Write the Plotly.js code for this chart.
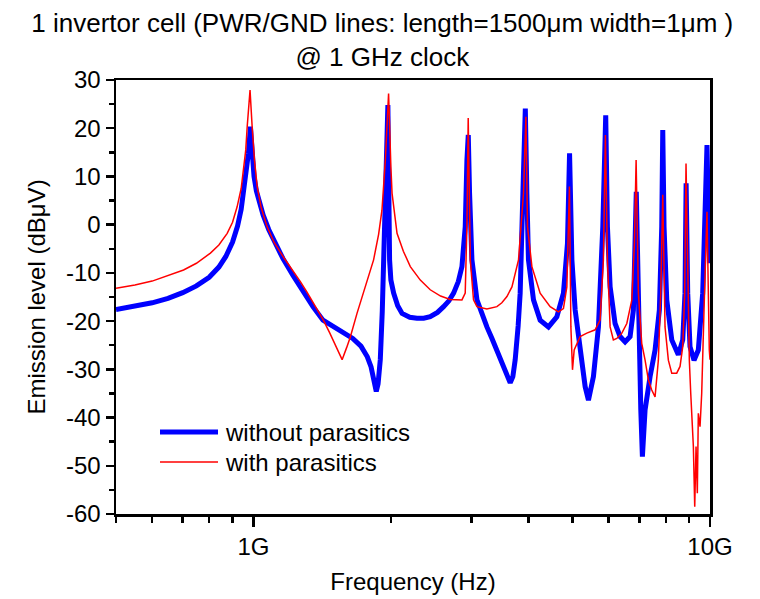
<!DOCTYPE html>
<html>
<head>
<meta charset="utf-8">
<script src="https://cdn.plot.ly/plotly-3.0.1.min.js"></script>
<style>html,body{margin:0;padding:0;background:#fff;}#chart{width:760px;height:599px;}</style>
</head>
<body>
<div id="chart"></div>
<script>
// Frequencies in GHz, levels in dBuV
const blueFreqGHz = [0.5, 0.55, 0.6, 0.65, 0.7, 0.75, 0.8, 0.84, 0.87, 0.9, 0.923, 0.94, 0.951, 0.965, 0.975, 0.985,
  0.99, 0.995, 1.003, 1.015, 1.03, 1.05, 1.08, 1.11, 1.16, 1.22, 1.28, 1.35, 1.42, 1.5, 1.58, 1.65, 1.72, 1.776, 1.81, 1.835, 1.858, 1.875, 1.896, 1.915, 1.928, 1.945, 1.97,
  1.987, 2.0, 2.028, 2.07, 2.116, 2.2, 2.281, 2.36, 2.439, 2.53, 2.609, 2.68, 2.744, 2.81, 2.862, 2.89, 2.91, 2.935, 2.955,
  2.974, 3.01, 3.087, 3.16, 3.246, 3.33, 3.414, 3.5, 3.591, 3.651, 3.7, 3.744, 3.8, 3.839, 3.892, 3.94,
  3.971, 4.003, 4.106, 4.246, 4.428, 4.619, 4.775, 4.873, 4.925, 4.983, 5.066, 5.195, 5.328, 5.417, 5.555, 5.697, 5.824, 5.91, 5.961, 6.043, 6.196, 6.355, 6.517, 6.683, 6.796, 6.895, 6.969, 7.054, 7.111, 7.208, 7.392, 7.58, 7.746, 7.84, 7.88, 7.931, 8.04, 8.246, 8.523, 8.715, 8.816, 8.865, 8.937, 9.041, 9.226, 9.428, 9.638, 9.752, 9.85, 9.92, 9.99];
const blueLevel = [-17.6, -17.0, -16.2, -15.3, -14.1, -12.7, -10.9, -8.8, -6.6, -3.6, -0.3, 3.2, 6.6, 11, 14.8, 20.3,
  16.5, 13, 10, 7, 4.5, 2, -1, -3.5, -7, -10.5, -13.8, -17, -19.8, -21.2, -22.5, -23.6, -25.2, -27.4, -29.5, -32, -34.6, -33, -28, -18, -7.3, 13.4, 24.8,
  -7.3, -11.5, -14.2, -16.8, -18.4, -19.2, -19.4, -19.4, -19.1, -18.2, -17, -15.8, -14.2, -11.8, -8.7, -5, -0.4, 13.4, 18.6,
  6.6, -7.3, -15.6, -18.5, -21.2, -23.6, -26, -28.4, -30.8, -32.8, -31.5, -28, -21, -14.2, 6.5, 24.1,
  6.5, -7.3, -15.6, -19.8, -21.2, -19.1, -14.2, -3.9, 14.8, -7.3, -17.7, -26.7, -33.6, -36.4, -31.5, -21.2, -0.4, 22.7, -0.4, -12.9, -20.5, -23.2, -24.3, -23.2, -17.7, 6.8, -21.2, -38.4, -48.1, -38.4, -31.5, -26, -17.7, -0.4, 19.6, -0.4, -15.6, -23.9, -27, -23.9, -14.2, 8.6, -14.2, -25.3, -28.1, -26, -14.2, 6.5, 16.5, 2, -8];

const redFreqGHz = [0.5, 0.55, 0.6, 0.65, 0.703, 0.75, 0.805, 0.84, 0.876, 0.9, 0.921, 0.94, 0.952, 0.962, 0.969, 0.976, 0.983,
  0.9935, 1.005, 1.019, 1.04, 1.071, 1.11, 1.165, 1.22, 1.267, 1.31, 1.355, 1.423, 1.47, 1.52, 1.564, 1.6, 1.63, 1.686, 1.75, 1.833, 1.88, 1.912, 1.945, 1.977,
  2.0, 2.012, 2.063, 2.13, 2.206, 2.32, 2.439, 2.57, 2.698, 2.862, 2.91, 2.935, 2.954,
  2.985, 3.034, 3.087, 3.246, 3.414, 3.5, 3.591, 3.683, 3.807, 3.904, 3.952,
  3.984, 4.073, 4.246, 4.466, 4.656, 4.775, 4.858, 4.922, 4.958, 4.998, 5.041, 5.11, 5.195, 5.373, 5.603, 5.745, 5.841, 5.901, 5.961, 6.043, 6.143, 6.25, 6.411, 6.573, 6.742, 6.831, 6.889, 6.969, 7.087, 7.208, 7.328, 7.454, 7.58, 7.707, 7.801, 7.88, 7.971, 8.106, 8.246, 8.455, 8.598, 8.715, 8.802, 8.861, 8.937, 9.01, 9.075, 9.134, 9.195, 9.259, 9.32, 9.381, 9.428, 9.509, 9.59, 9.703, 9.787, 9.849, 9.965, 10.0];
const redLevel = [-13.2, -12.5, -11.7, -10.6, -9.4, -8.0, -5.9, -4.2, -1.8, 0.5, 3.7, 7.5, 11.3, 15.5, 20.3, 24.5, 27.9,
  20.3, 13.5, 7.9, 3.5, -0.4, -3.7, -6.8, -9.5, -11.8, -14, -16.3, -19.8, -22.5, -25.5, -28, -25.5, -23.3, -18.4, -13.5, -7.3, -2, 3, 13.4, 27.2,
  12, 6.5, -1.8, -5.5, -8.7, -11.5, -13.5, -14.8, -15.5, -15.6, -14.2, 0, 22.1,
  -7.3, -15.6, -17, -17.5, -17, -16.2, -14.9, -12.9, -7.3, 6.5, 22.4,
  -0.4, -8.7, -14.2, -17, -18.1, -17.4, -12.9, 7.9, -21.2, -30.1, -26, -24.6, -23.2, -22.5, -21.8, -19.8, -7.3, 18.6, -7.3, -21.2, -23.9, -23.6, -22.5, -20.5, -15.6, -3.9, 13.4, -14.2, -24.6, -28.1, -32.2, -34.3, -35.7, -28.1, -14.2, 6.2, -21.2, -28.1, -30.8, -30.8, -29.4, -25.3, -14.2, 12.7, -14.2, -28.1, -35, -40.5, -46, -58.5, -46, -55.7, -39.1, -41.9, -35, -17.7, -7.3, 2.7, -26, -28];

const seriesNames = ['without parasitics', 'with parasitics'];
const xTickVals = [1e9, 1e10];
const xTickText = ['1G', '10G'];
const xMinorVals = [5e8, 6e8, 7e8, 8e8, 9e8, 2e9, 3e9, 4e9, 5e9, 6e9, 7e9, 8e9, 9e9];
const yTickVals = [-60, -50, -40, -30, -20, -10, 0, 10, 20, 30];
const yTickText = ['-60', '-50', '-40', '-30', '-20', '-10', '0', '10', '20', '30'];

const FONT = 'Liberation Sans, Arial, Helvetica, sans-serif';
const toHz = a => a.map(v => v * 1e9);

const traces = [
  {x: toHz(blueFreqGHz), y: blueLevel, type: 'scatter', mode: 'lines', name: seriesNames[0],
   line: {color: '#0000ff', width: 5}, showlegend: false},
  {x: toHz(redFreqGHz), y: redLevel, type: 'scatter', mode: 'lines', name: seriesNames[1],
   line: {color: '#ff0000', width: 1.5}, showlegend: false}
];

const L = 116, R = 710, T = 80, B = 514;
const px = x => (x - L) / (R - L);
const py = y => (B - y) / (B - T);

const layout = {
  width: 760, height: 599,
  margin: {l: L, r: 760 - R, t: T, b: 599 - B},
  paper_bgcolor: '#fff', plot_bgcolor: '#fff',
  font: {family: FONT, size: 24, color: '#000'},
  title: {
    text: '1 invertor cell (PWR/GND lines: length=1500μm width=1μm )<br>@ 1 GHz clock',
    font: {family: FONT, size: 26, color: '#000'},
    xref: 'container', x: 0.503, xanchor: 'center',
    yref: 'container', y: 0.947, yanchor: 'top'
  },
  xaxis: {
    type: 'log', range: [Math.log10(5e8), 10],
    tickmode: 'array', tickvals: xTickVals, ticktext: xTickText,
    ticks: 'outside', ticklen: 10, tickwidth: 2.5, tickcolor: '#000',
    minor: {tickmode: 'array', tickvals: xMinorVals, ticks: 'outside', ticklen: 6, tickwidth: 2.5, tickcolor: '#000', showgrid: false},
    showline: true, linewidth: 2.5, linecolor: '#000', mirror: true,
    showgrid: false, zeroline: false,
    tickfont: {family: FONT, size: 24},
    title: {text: 'Frequency (Hz)', font: {family: FONT, size: 24}, standoff: 14}
  },
  yaxis: {
    range: [-60, 30],
    tickmode: 'array', tickvals: yTickVals, ticktext: yTickText,
    ticks: 'outside', ticklen: 8, tickwidth: 2.5, tickcolor: '#000',
    minor: {dtick: 5, ticks: 'outside', ticklen: 5, tickwidth: 2.5, tickcolor: '#000', showgrid: false},
    showline: true, linewidth: 2.5, linecolor: '#000', mirror: true,
    showgrid: false, zeroline: false,
    tickfont: {family: FONT, size: 24},
    title: {text: 'Emission level (dBμV)', font: {family: FONT, size: 24}, standoff: 14}
  },
  showlegend: false,
  shapes: [
    {type: 'line', xref: 'paper', yref: 'paper', x0: px(160), x1: px(218), y0: py(432), y1: py(432), line: {color: '#0000ff', width: 5}},
    {type: 'line', xref: 'paper', yref: 'paper', x0: px(160), x1: px(218), y0: py(462), y1: py(462), line: {color: '#ff0000', width: 1.5}}
  ],
  annotations: [
    {xref: 'paper', yref: 'paper', x: px(223), y: py(432), xanchor: 'left', yanchor: 'middle', text: seriesNames[0], showarrow: false, font: {family: FONT, size: 24}},
    {xref: 'paper', yref: 'paper', x: px(223), y: py(462), xanchor: 'left', yanchor: 'middle', text: seriesNames[1], showarrow: false, font: {family: FONT, size: 24}}
  ]
};

Plotly.newPlot('chart', traces, layout, {displayModeBar: false, staticPlot: true});
</script>
</body>
</html>
